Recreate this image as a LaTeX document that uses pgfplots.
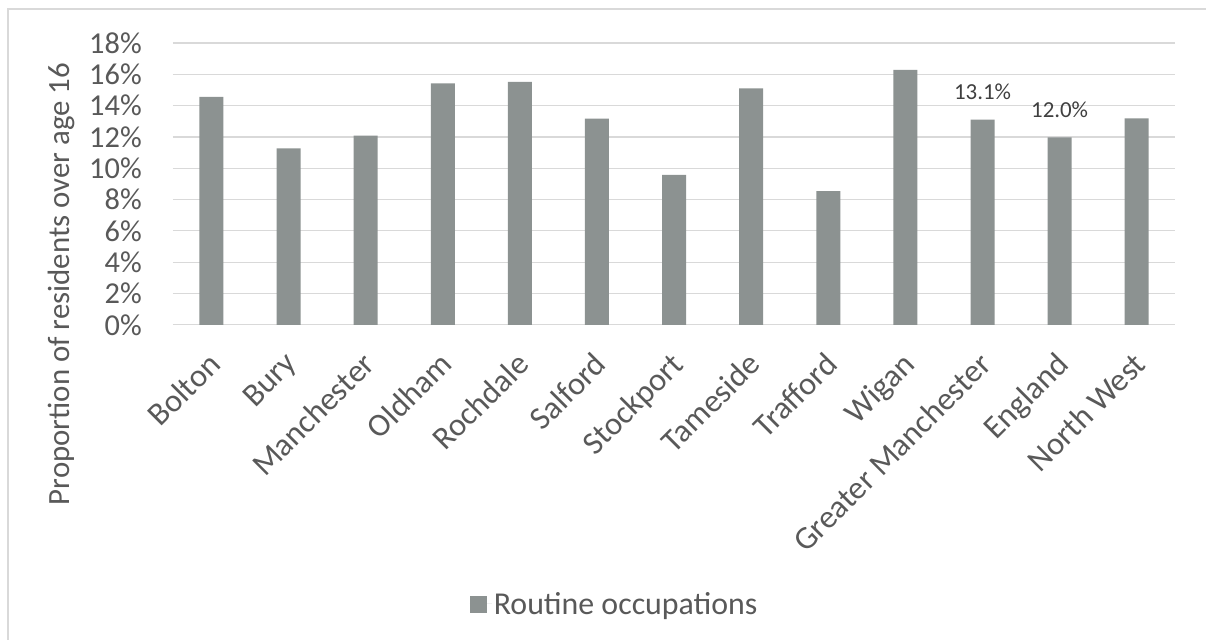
\documentclass[border=0pt]{standalone}
\usepackage{pgfplots}
\pgfplotsset{compat=1.18}
\usepackage{fontspec}
\setmainfont{Carlito}
\definecolor{barc}{RGB}{140,146,145}
\definecolor{gridc}{RGB}{217,217,217}
\definecolor{txtc}{RGB}{89,89,89}
\definecolor{lblc}{RGB}{64,64,64}
\begin{document}
\begin{tikzpicture}[x=1bp,y=1bp]
\fill[white] (0,0) rectangle (1207,640);
\draw[gridc, line width=1.5bp] (8,0) -- (8,631) -- (1207,631);
\begin{axis}[
  at={(173bp,315bp)}, anchor=south west,
  scale only axis, width=1003bp, height=282bp,
  xmin=-0.5, xmax=12.5, ymin=0, ymax=18,
  ybar, bar width=24bp,
  axis line style={draw=none},
  axis x line*=bottom,
  ytick={0,2,...,18},
  ymajorgrids, grid style={gridc, line width=1.2bp},
  major tick length=0pt,
  xtick=data,
  xticklabels={Bolton,Bury,Manchester,Oldham,Rochdale,Salford,Stockport,Tameside,Trafford,Wigan,Greater Manchester,England,North West},
  xticklabel style={rotate=45, anchor=north east, font=\fontsize{32.5}{38}\selectfont, text=txtc, inner sep=0pt, xshift=-21.7bp, yshift=-14.5bp},
  yticklabel={\pgfmathprintnumber{\tick}\%},
  /pgf/number format/assume math mode=true,
  yticklabel style={font=\fontsize{30.5}{36}\selectfont, text=txtc, inner sep=0pt, xshift=-31bp},
  ylabel={Proportion of residents over age 16},
  ylabel style={font=\fontsize{31}{37}\selectfont, text=txtc, at={(axis description cs:-0.111,0.145)}, anchor=center},
  legend style={at={(axis description cs:0.4407,-0.99)}, anchor=center, draw=none, fill=none, font=\fontsize{32}{38}\selectfont, text=txtc},
  legend image code/.code={\fill[barc] (0bp,-9bp) rectangle (17bp,8bp); \path (0bp,0bp) -- (22bp,0bp);},
  clip=false,
]
\addplot[fill=barc, draw=none, bar shift=0pt] coordinates {
(0,14.55) (1,11.27) (2,12.08) (3,15.42) (4,15.51) (5,13.17) (6,9.57) (7,15.10) (8,8.54) (9,16.28) (10,13.10) (11,11.97) (12,13.19)};
\addlegendentry{Routine occupations}
\addplot[draw=none, fill=none, bar shift=0pt, forget plot,
  nodes near coords={\pgfmathprintnumber[fixed, fixed zerofill, precision=1]{\pgfplotspointmeta}\%},
  nodes near coords style={font=\fontsize{23}{28}\selectfont, text=lblc, yshift=16bp, /pgf/number format/assume math mode=true}]
  coordinates {(10,13.1) (11,12.0)};
\end{axis}
\end{tikzpicture}
\end{document}
